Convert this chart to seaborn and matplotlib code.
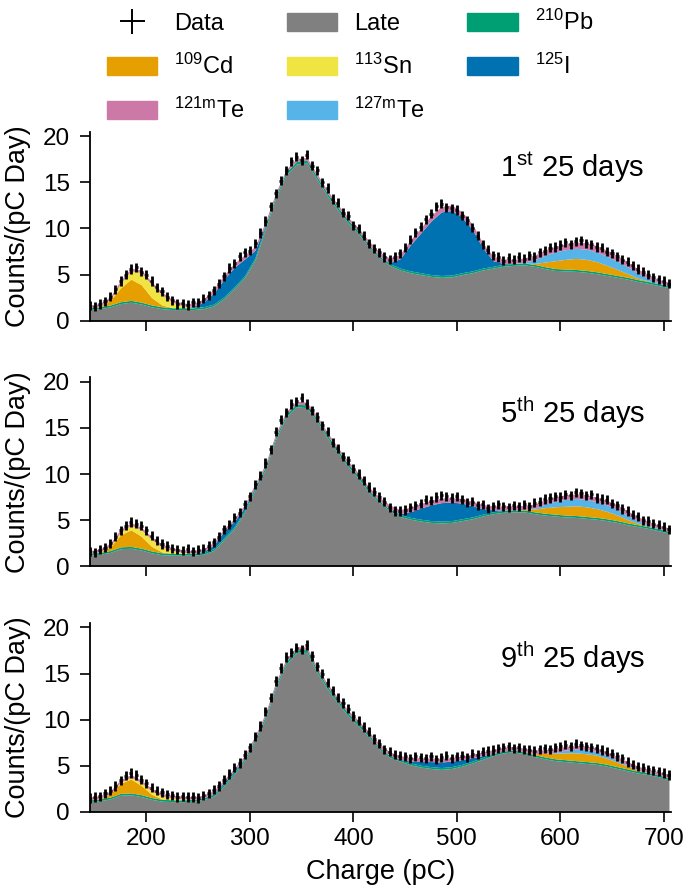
import numpy as np
import pandas as pd
import matplotlib.pyplot as plt
import seaborn as sns
from matplotlib.lines import Line2D
from matplotlib.patches import Patch

# component curves are read every 10 pC, data points every 5 pC
charge = np.arange(145, 706, 10)
data_charge = np.arange(145, 706, 5)

# ---- 1st 25 days ----
late_1 = [1.2, 1.3, 1.5, 1.85, 2.0, 1.8, 1.5, 1.3, 1.2, 1.2,
          1.2, 1.3, 1.6, 2.4, 3.5, 4.7, 6.6, 10.0, 13.3, 15.8,
          17.0, 17.1, 15.3, 13.5, 12.0, 10.6, 9.4, 8.0, 6.8, 6.0,
          5.5, 5.2, 5.0, 4.8, 4.7, 4.75, 5.0, 5.2, 5.5, 5.7,
          5.9, 6.0, 6.05, 5.9, 5.65, 5.45, 5.4, 5.35, 5.25, 5.1,
          4.9, 4.7, 4.5, 4.25, 4.05, 3.8, 3.6]
cd_1 = {155: [0.05, 0.5, 1.5, 2.3, 1.9, 0.8, 0.2],
        575: [0.1, 0.5, 0.85, 1.05, 1.2, 1.2, 1.1, 0.9, 0.65, 0.4, 0.15, 0.05]}
sn_1 = {165: [0.1, 0.5, 0.9, 1.3, 1.4, 1.1, 0.6, 0.2, 0.05]}
i125_1 = {245: [0.1, 0.5, 1.2, 1.9, 2.1, 1.8, 0.8, 0.1],
          435: [0.1, 1.0, 2.8, 4.3, 5.8, 6.9, 7.0, 6.0, 4.5, 2.2, 0.6, 0.1]}
te127_1 = {565: [0.1, 0.4, 0.75, 0.95, 1.05, 1.1, 1.1, 1.05, 1.0, 0.9, 0.75, 0.55, 0.3, 0.1, 0.05]}
te121_1 = [0.3, 0.3, 0.3, 0.3, 0.3, 0.3, 0.3, 0.3, 0.3, 0.3,
           0.3, 0.35, 0.4, 0.45, 0.45, 0.45, 0.4, 0.35, 0.3, 0.3,
           0.3, 0.3, 0.3, 0.3, 0.3, 0.3, 0.35, 0.4, 0.45, 0.5,
           0.5, 0.55, 0.55, 0.6, 0.6, 0.6, 0.6, 0.55, 0.55, 0.5,
           0.5, 0.45, 0.45, 0.5, 0.55, 0.6, 0.65, 0.7, 0.7, 0.7,
           0.65, 0.6, 0.55, 0.45, 0.4, 0.35, 0.35]
data_1 = [1.6, 1.5, 1.8, 2.1, 2.6, 3.4, 4.3, 5.0, 5.6, 5.8,
          5.3, 5.0, 4.3, 3.6, 3.2, 2.6, 2.2, 1.8, 1.9, 1.7,
          2.0, 2.0, 2.4, 2.7, 3.3, 4.0, 4.8, 5.7, 6.2, 7.0,
          7.4, 7.6, 8.4, 9.5, 10.8, 12.4, 13.8, 15.2, 16.3, 17.3,
          17.8, 17.4, 18.0, 16.8, 16.3, 15.0, 14.4, 13.2, 12.8, 11.7,
          11.4, 10.3, 10.0, 9.2, 8.4, 7.8, 7.4, 6.9, 6.6, 6.9,
          7.3, 7.9, 8.8, 9.6, 10.2, 11.0, 11.6, 12.4, 12.7, 12.3,
          12.2, 12.0, 11.4, 10.9, 10.1, 9.2, 8.3, 7.7, 7.1, 6.9,
          6.5, 6.8, 6.6, 6.9, 6.7, 7.1, 6.9, 7.4, 7.6, 7.9,
          8.0, 8.2, 8.5, 8.3, 8.6, 8.7, 8.4, 8.3, 8.0, 7.9,
          7.5, 7.3, 7.0, 6.6, 6.4, 6.0, 5.6, 5.3, 5.0, 4.7,
          4.5, 4.3, 4.0]

# ---- 5th 25 days ----
late_2 = [1.2, 1.3, 1.5, 1.9, 1.95, 1.75, 1.45, 1.25, 1.2, 1.2,
          1.2, 1.3, 1.7, 2.9, 4.1, 5.9, 8.3, 10.5, 13.8, 16.2,
          17.3, 17.2, 15.7, 13.9, 12.3, 10.8, 9.5, 8.0, 6.9, 6.0,
          5.4, 5.1, 4.9, 4.75, 4.7, 4.75, 4.95, 5.15, 5.45, 5.7,
          5.85, 5.9, 5.9, 5.7, 5.55, 5.45, 5.35, 5.3, 5.2, 5.1,
          4.95, 4.75, 4.5, 4.3, 4.1, 3.85, 3.6]
cd_2 = {155: [0.05, 0.4, 1.3, 1.8, 1.3, 0.5, 0.1],
        565: [0.05, 0.3, 0.6, 0.8, 0.95, 1.05, 1.05, 0.95, 0.8, 0.6, 0.35, 0.15, 0.05]}
sn_2 = {165: [0.1, 0.3, 0.5, 0.7, 0.75, 0.55, 0.3, 0.1]}
i125_2 = {255: [0.1, 0.4, 0.7, 0.6, 0.3, 0.1],
          445: [0.1, 0.6, 1.2, 1.7, 2.0, 2.0, 1.7, 1.2, 0.6, 0.2, 0.05]}
te127_2 = {575: [0.1, 0.4, 0.6, 0.75, 0.8, 0.8, 0.75, 0.7, 0.6, 0.45, 0.3, 0.1, 0.05]}
te121_2 = [0.3, 0.3, 0.3, 0.3, 0.3, 0.3, 0.3, 0.3, 0.3, 0.3,
           0.3, 0.3, 0.3, 0.3, 0.3, 0.3, 0.3, 0.3, 0.3, 0.3,
           0.3, 0.3, 0.3, 0.3, 0.3, 0.3, 0.3, 0.35, 0.4, 0.45,
           0.45, 0.5, 0.5, 0.5, 0.5, 0.5, 0.5, 0.5, 0.45, 0.45,
           0.45, 0.45, 0.45, 0.45, 0.45, 0.5, 0.5, 0.5, 0.5, 0.5,
           0.5, 0.5, 0.5, 0.45, 0.4, 0.35, 0.35]
data_2 = [1.6, 1.5, 1.8, 2.0, 2.5, 3.2, 3.9, 4.4, 4.8, 4.6,
          4.4, 3.9, 3.3, 2.8, 2.4, 2.2, 1.9, 1.8, 1.7, 1.9,
          1.6, 1.8, 1.9, 2.2, 2.6, 3.2, 4.0, 4.5, 5.3, 5.8,
          6.7, 7.6, 8.9, 9.8, 11.2, 12.7, 14.6, 15.9, 16.7, 17.6,
          17.9, 18.3, 17.6, 16.9, 16.2, 15.3, 14.6, 13.4, 12.8, 11.9,
          11.5, 10.6, 10.0, 9.3, 8.6, 8.1, 7.5, 7.0, 6.4, 6.0,
          6.0, 6.1, 6.4, 6.6, 6.8, 7.2, 7.1, 7.5, 7.7, 7.6,
          7.4, 7.6, 7.2, 6.9, 7.0, 6.6, 6.7, 6.3, 6.5, 6.7,
          6.5, 6.4, 6.6, 6.5, 6.7, 6.5, 6.9, 7.0, 7.3, 7.4,
          7.6, 7.5, 7.8, 7.7, 8.0, 7.9, 7.7, 7.8, 7.4, 7.3,
          7.2, 6.8, 6.6, 6.2, 6.0, 5.6, 5.4, 5.0, 4.9, 4.6,
          4.5, 4.3, 4.0]

# ---- 9th 25 days ----
late_3 = [1.1, 1.2, 1.4, 1.8, 1.85, 1.65, 1.35, 1.15, 1.1, 1.1,
          1.15, 1.3, 1.7, 2.8, 4.1, 5.6, 7.7, 10.1, 13.5, 16.0,
          17.3, 17.3, 15.1, 13.3, 11.8, 10.4, 9.3, 8.1, 6.8, 5.9,
          5.5, 5.1, 4.85, 4.7, 4.6, 4.7, 4.95, 5.3, 5.7, 6.1,
          6.4, 6.5, 6.3, 6.0, 5.75, 5.55, 5.45, 5.35, 5.25, 5.15,
          4.95, 4.7, 4.45, 4.2, 4.05, 3.8, 3.5]
cd_3 = {155: [0.05, 0.35, 1.1, 1.5, 1.0, 0.35, 0.05],
        575: [0.1, 0.4, 0.6, 0.75, 0.85, 0.85, 0.8, 0.65, 0.5, 0.3, 0.1]}
sn_3 = {175: [0.1, 0.2, 0.3, 0.35, 0.3, 0.2, 0.1]}
i125_3 = {265: [0.1, 0.2, 0.15, 0.05],
          455: [0.2, 0.4, 0.55, 0.6, 0.6, 0.5, 0.35, 0.2, 0.05]}
te127_3 = {595: [0.1, 0.3, 0.4, 0.45, 0.4, 0.3, 0.2, 0.1, 0.05]}
te121_3 = [0.3, 0.3, 0.3, 0.3, 0.3, 0.3, 0.3, 0.3, 0.3, 0.3,
           0.3, 0.3, 0.3, 0.3, 0.3, 0.3, 0.3, 0.3, 0.3, 0.3,
           0.3, 0.3, 0.3, 0.3, 0.3, 0.3, 0.3, 0.35, 0.4, 0.4,
           0.4, 0.4, 0.4, 0.4, 0.4, 0.4, 0.4, 0.4, 0.4, 0.4,
           0.4, 0.4, 0.4, 0.4, 0.4, 0.4, 0.4, 0.4, 0.4, 0.4,
           0.4, 0.4, 0.4, 0.4, 0.35, 0.35, 0.35]
data_3 = [1.5, 1.6, 1.7, 2.0, 2.3, 2.8, 3.4, 3.9, 4.2, 4.0,
          3.5, 3.1, 2.6, 2.3, 2.1, 1.9, 1.8, 1.6, 1.7, 1.6,
          1.6, 1.5, 1.8, 2.0, 2.4, 2.8, 3.5, 4.1, 4.8, 5.3,
          6.2, 7.0, 8.2, 9.3, 10.9, 12.4, 14.2, 15.6, 16.8, 17.3,
          17.8, 17.6, 18.1, 16.9, 15.8, 15.0, 14.0, 13.2, 12.4, 11.8,
          11.2, 10.4, 9.9, 9.2, 8.7, 7.9, 7.4, 6.8, 6.5, 6.2,
          6.1, 6.0, 5.8, 6.0, 5.9, 5.8, 6.0, 5.7, 5.9, 6.1,
          5.8, 6.0, 6.1, 5.9, 6.3, 6.2, 6.5, 6.6, 6.7, 6.9,
          7.0, 7.1, 6.9, 7.0, 6.8, 6.7, 6.6, 6.8, 6.9, 6.8,
          7.0, 7.1, 7.3, 7.1, 7.4, 7.2, 7.1, 7.0, 6.9, 6.7,
          6.5, 6.3, 6.0, 5.8, 5.4, 5.1, 4.9, 4.8, 4.6, 4.5,
          4.4, 4.2, 4.0]

# thin 210Pb layer, same in all periods
pb_all = [0.2, 0.2, 0.2, 0.2, 0.2, 0.2, 0.2, 0.2, 0.2, 0.2,
          0.2, 0.2, 0.2, 0.2, 0.2, 0.2, 0.25, 0.3, 0.3, 0.3,
          0.3, 0.3, 0.3, 0.3, 0.3, 0.3, 0.3, 0.25, 0.2, 0.2,
          0.2, 0.2, 0.2, 0.2, 0.2, 0.2, 0.2, 0.2, 0.2, 0.2,
          0.2, 0.2, 0.2, 0.2, 0.2, 0.2, 0.2, 0.2, 0.2, 0.2,
          0.2, 0.2, 0.2, 0.2, 0.2, 0.2, 0.2]

period_labels = [r"1$^{\mathrm{st}}$ 25 days", r"5$^{\mathrm{th}}$ 25 days", r"9$^{\mathrm{th}}$ 25 days"]

names = ["Late", "210Pb", "109Cd", "113Sn", "125I", "127mTe", "121mTe"]
pretty = {"Late": "Late", "210Pb": r"$^{\mathrm{210}}$Pb", "109Cd": r"$^{\mathrm{109}}$Cd",
          "113Sn": r"$^{\mathrm{113}}$Sn", "125I": r"$^{\mathrm{125}}$I",
          "127mTe": r"$^{\mathrm{127m}}$Te", "121mTe": r"$^{\mathrm{121m}}$Te"}
colors = {"Late": "#808080", "210Pb": "#009E73", "109Cd": "#E69F00", "113Sn": "#F0E442",
          "125I": "#0072B2", "127mTe": "#56B4E9", "121mTe": "#CC79A7"}


def on_grid(segments):
    # put the read-off stretches onto the common 10 pC grid (zero elsewhere)
    out = np.zeros(len(charge))
    for start, vals in segments.items():
        i = (start - 145) // 10
        out[i:i + len(vals)] = vals
    return out


periods = [
    (late_1, cd_1, sn_1, i125_1, te127_1, te121_1, data_1),
    (late_2, cd_2, sn_2, i125_2, te127_2, te121_2, data_2),
    (late_3, cd_3, sn_3, i125_3, te127_3, te121_3, data_3),
]

sns.set_style("ticks")
plt.rcParams["font.family"] = ["Liberation Sans", "DejaVu Sans"]
plt.rcParams["mathtext.fontset"] = "custom"
plt.rcParams["mathtext.rm"] = "Liberation Sans"
plt.rcParams["mathtext.it"] = "Liberation Sans:italic"
plt.rcParams["mathtext.bf"] = "Liberation Sans:bold"
for key in ["text.color", "axes.labelcolor", "xtick.color", "ytick.color", "axes.edgecolor"]:
    plt.rcParams[key] = "black"

fig, axes = plt.subplots(3, 1, figsize=(6.85, 8.96), dpi=100, sharex=True)
fig.subplots_adjust(left=0.1307, right=0.9796, bottom=0.094, top=0.853, hspace=0.30)

for ax, (late, cd, sn, i125, te127, te121, data), lab in zip(axes, periods, period_labels):
    comps = {"Late": late, "210Pb": pb_all, "109Cd": on_grid(cd), "113Sn": on_grid(sn),
             "125I": on_grid(i125), "127mTe": on_grid(te127), "121mTe": te121}
    df = pd.concat([pd.DataFrame({"charge": charge, "value": np.asarray(v, float), "component": k})
                    for k, v in comps.items()], ignore_index=True)
    # seaborn stacks the last hue level at the bottom; one 10 pC bin per sample
    sns.histplot(data=df, x="charge", weights="value", hue="component", hue_order=names[::-1],
                 palette=colors, multiple="stack", bins=57, binrange=(140, 710), element="poly",
                 fill=True, alpha=1, linewidth=0, legend=False, ax=ax)
    ax.errorbar(data_charge, data, yerr=0.5, xerr=1.5, fmt="none", ecolor="black",
                elinewidth=2.0, capsize=0, zorder=5)
    ax.text(0.83, 0.76, lab, transform=ax.transAxes, ha="center", va="baseline", fontsize=21)
    ax.set_xlim(145, 707)
    ax.set_ylim(0, 20.5)
    ax.set_yticks([0, 5, 10, 15, 20])
    ax.set_xticks([200, 300, 400, 500, 600, 700])
    ax.set_ylabel("Counts/(pC Day)", fontsize=19.5)
    ax.set_xlabel("")
    ax.tick_params(labelsize=17.5, length=7.5, width=1.2)
    ax.tick_params(axis="y", pad=6.5)
    ax.tick_params(axis="x", pad=4.5)
    for s in ["left", "bottom"]:
        ax.spines[s].set_linewidth(1.3)
    sns.despine(ax=ax)
    ax.yaxis.set_label_coords(-0.1, 0.5)

axes[-1].set_xlabel("Charge (pC)", fontsize=19.5, labelpad=6)

handles = [Line2D([], [], ls="none", marker="+", markersize=18, mew=1.4, color="black")]
labels = ["Data"]
for k in ["109Cd", "121mTe", "Late", "113Sn", "127mTe", "210Pb", "125I"]:
    handles.append(Patch(facecolor=colors[k], edgecolor=colors[k]))
    labels.append(pretty[k])
fig.legend(handles, labels, ncol=3, loc="upper left", bbox_to_anchor=(0.156, 0.989),
           frameon=False, fontsize=17, handlelength=2.12, handleheight=0.8, handletextpad=0.72,
           columnspacing=1.8, labelspacing=0.8, borderpad=0, borderaxespad=0)

fig.savefig("out.png", dpi=100)
